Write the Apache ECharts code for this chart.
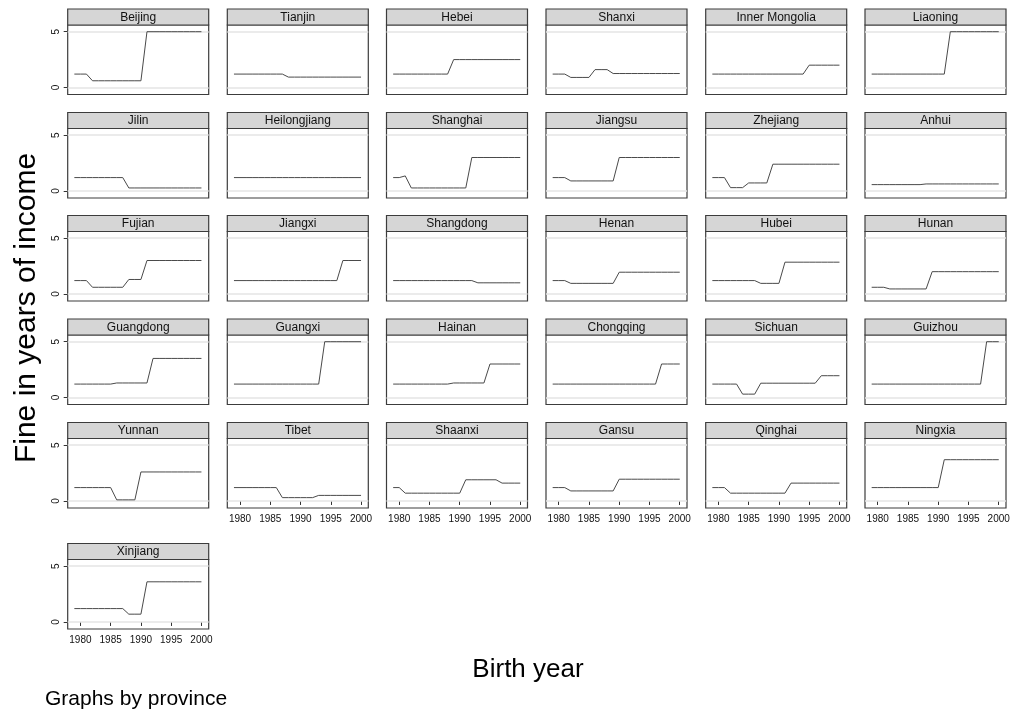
<!DOCTYPE html>
<html>
<head>
<meta charset="utf-8">
<script src="https://cdn.jsdelivr.net/npm/echarts@6.0.0/dist/echarts.min.js"></script>
<style>
  html, body { margin: 0; padding: 0; background: #fff; }
  #main { width: 1012px; height: 713px; }
</style>
</head>
<body>
<div id="main"></div>
<script>
// birth years and axis ticks
const years = [1979, 1980, 1981, 1982, 1983, 1984, 1985, 1986, 1987, 1988, 1989,
  1990, 1991, 1992, 1993, 1994, 1995, 1996, 1997, 1998, 1999, 2000];
const xTicks = [1980, 1985, 1990, 1995, 2000];
const yTicks = [0, 5];

const provinces = ['Beijing', 'Tianjin', 'Hebei', 'Shanxi', 'Inner Mongolia', 'Liaoning',
  'Jilin', 'Heilongjiang', 'Shanghai', 'Jiangsu', 'Zhejiang', 'Anhui',
  'Fujian', 'Jiangxi', 'Shangdong', 'Henan', 'Hubei', 'Hunan',
  'Guangdong', 'Guangxi', 'Hainan', 'Chongqing', 'Sichuan', 'Guizhou',
  'Yunnan', 'Tibet', 'Shaanxi', 'Gansu', 'Qinghai', 'Ningxia',
  'Xinjiang'];

// fine (years of income), 1979..2000
const beijing = [1.2, 1.2, 1.2, 0.6, 0.6, 0.6, 0.6, 0.6, 0.6, 0.6, 0.6, 0.6, 5, 5, 5, 5, 5, 5, 5, 5, 5, 5];
const tianjin = [1.2, 1.2, 1.2, 1.2, 1.2, 1.2, 1.2, 1.2, 1.2, 0.93, 0.93, 0.93, 0.93, 0.93, 0.93, 0.93, 0.93, 0.93, 0.93, 0.93, 0.93, 0.93];
const hebei = [1.2, 1.2, 1.2, 1.2, 1.2, 1.2, 1.2, 1.2, 1.2, 1.2, 2.5, 2.5, 2.5, 2.5, 2.5, 2.5, 2.5, 2.5, 2.5, 2.5, 2.5, 2.5];
const shanxi = [1.2, 1.2, 1.2, 0.9, 0.9, 0.9, 0.9, 1.6, 1.6, 1.6, 1.25, 1.25, 1.25, 1.25, 1.25, 1.25, 1.25, 1.25, 1.25, 1.25, 1.25, 1.25];
const innerMongolia = [1.2, 1.2, 1.2, 1.2, 1.2, 1.2, 1.2, 1.2, 1.2, 1.2, 1.2, 1.2, 1.2, 1.2, 1.2, 1.2, 2, 2, 2, 2, 2, 2];
const liaoning = [1.2, 1.2, 1.2, 1.2, 1.2, 1.2, 1.2, 1.2, 1.2, 1.2, 1.2, 1.2, 1.2, 5, 5, 5, 5, 5, 5, 5, 5, 5];
const jilin = [1.2, 1.2, 1.2, 1.2, 1.2, 1.2, 1.2, 1.2, 1.2, 0.27, 0.27, 0.27, 0.27, 0.27, 0.27, 0.27, 0.27, 0.27, 0.27, 0.27, 0.27, 0.27];
const heilongjiang = [1.2, 1.2, 1.2, 1.2, 1.2, 1.2, 1.2, 1.2, 1.2, 1.2, 1.2, 1.2, 1.2, 1.2, 1.2, 1.2, 1.2, 1.2, 1.2, 1.2, 1.2, 1.2];
const shanghai = [1.2, 1.2, 1.35, 0.27, 0.27, 0.27, 0.27, 0.27, 0.27, 0.27, 0.27, 0.27, 0.27, 3, 3, 3, 3, 3, 3, 3, 3, 3];
const jiangsu = [1.2, 1.2, 1.2, 0.9, 0.9, 0.9, 0.9, 0.9, 0.9, 0.9, 0.9, 3, 3, 3, 3, 3, 3, 3, 3, 3, 3, 3];
const zhejiang = [1.2, 1.2, 1.2, 0.3, 0.3, 0.3, 0.72, 0.72, 0.72, 0.72, 2.4, 2.4, 2.4, 2.4, 2.4, 2.4, 2.4, 2.4, 2.4, 2.4, 2.4, 2.4];
const anhui = [0.57, 0.57, 0.57, 0.57, 0.57, 0.57, 0.57, 0.57, 0.57, 0.63, 0.63, 0.63, 0.63, 0.63, 0.63, 0.63, 0.63, 0.63, 0.63, 0.63, 0.63, 0.63];
const fujian = [1.2, 1.2, 1.2, 0.6, 0.6, 0.6, 0.6, 0.6, 0.6, 1.3, 1.3, 1.3, 3, 3, 3, 3, 3, 3, 3, 3, 3, 3];
const jiangxi = [1.2, 1.2, 1.2, 1.2, 1.2, 1.2, 1.2, 1.2, 1.2, 1.2, 1.2, 1.2, 1.2, 1.2, 1.2, 1.2, 1.2, 1.2, 3, 3, 3, 3];
const shangdong = [1.2, 1.2, 1.2, 1.2, 1.2, 1.2, 1.2, 1.2, 1.2, 1.2, 1.2, 1.2, 1.2, 1.2, 1, 1, 1, 1, 1, 1, 1, 1];
const henan = [1.2, 1.2, 1.2, 0.95, 0.95, 0.95, 0.95, 0.95, 0.95, 0.95, 0.95, 1.95, 1.95, 1.95, 1.95, 1.95, 1.95, 1.95, 1.95, 1.95, 1.95, 1.95];
const hubei = [1.2, 1.2, 1.2, 1.2, 1.2, 1.2, 1.2, 1.2, 0.95, 0.95, 0.95, 0.95, 2.85, 2.85, 2.85, 2.85, 2.85, 2.85, 2.85, 2.85, 2.85, 2.85];
const hunan = [0.6, 0.6, 0.6, 0.45, 0.45, 0.45, 0.45, 0.45, 0.45, 0.45, 2, 2, 2, 2, 2, 2, 2, 2, 2, 2, 2, 2];
const guangdong = [1.2, 1.2, 1.2, 1.2, 1.2, 1.2, 1.2, 1.3, 1.3, 1.3, 1.3, 1.3, 1.3, 3.5, 3.5, 3.5, 3.5, 3.5, 3.5, 3.5, 3.5, 3.5];
const guangxi = [1.2, 1.2, 1.2, 1.2, 1.2, 1.2, 1.2, 1.2, 1.2, 1.2, 1.2, 1.2, 1.2, 1.2, 1.2, 5, 5, 5, 5, 5, 5, 5];
const hainan = [1.2, 1.2, 1.2, 1.2, 1.2, 1.2, 1.2, 1.2, 1.2, 1.2, 1.3, 1.3, 1.3, 1.3, 1.3, 1.3, 3, 3, 3, 3, 3, 3];
const chongqing = [1.2, 1.2, 1.2, 1.2, 1.2, 1.2, 1.2, 1.2, 1.2, 1.2, 1.2, 1.2, 1.2, 1.2, 1.2, 1.2, 1.2, 1.2, 3, 3, 3, 3];
const sichuan = [1.2, 1.2, 1.2, 1.2, 1.2, 0.3, 0.3, 0.3, 1.28, 1.28, 1.28, 1.28, 1.28, 1.28, 1.28, 1.28, 1.28, 1.28, 1.95, 1.95, 1.95, 1.95];
const guizhou = [1.2, 1.2, 1.2, 1.2, 1.2, 1.2, 1.2, 1.2, 1.2, 1.2, 1.2, 1.2, 1.2, 1.2, 1.2, 1.2, 1.2, 1.2, 1.2, 5, 5, 5];
const yunnan = [1.2, 1.2, 1.2, 1.2, 1.2, 1.2, 1.2, 0.1, 0.1, 0.1, 0.1, 2.6, 2.6, 2.6, 2.6, 2.6, 2.6, 2.6, 2.6, 2.6, 2.6, 2.6];
const tibet = [1.2, 1.2, 1.2, 1.2, 1.2, 1.2, 1.2, 1.2, 0.3, 0.3, 0.3, 0.3, 0.3, 0.3, 0.5, 0.5, 0.5, 0.5, 0.5, 0.5, 0.5, 0.5];
const shaanxi = [1.2, 1.2, 0.7, 0.7, 0.7, 0.7, 0.7, 0.7, 0.7, 0.7, 0.7, 0.7, 1.9, 1.9, 1.9, 1.9, 1.9, 1.9, 1.6, 1.6, 1.6, 1.6];
const gansu = [1.2, 1.2, 1.2, 0.9, 0.9, 0.9, 0.9, 0.9, 0.9, 0.9, 0.9, 1.95, 1.95, 1.95, 1.95, 1.95, 1.95, 1.95, 1.95, 1.95, 1.95, 1.95];
const qinghai = [1.2, 1.2, 1.2, 0.7, 0.7, 0.7, 0.7, 0.7, 0.7, 0.7, 0.7, 0.7, 0.7, 1.6, 1.6, 1.6, 1.6, 1.6, 1.6, 1.6, 1.6, 1.6];
const ningxia = [1.2, 1.2, 1.2, 1.2, 1.2, 1.2, 1.2, 1.2, 1.2, 1.2, 1.2, 1.2, 3.7, 3.7, 3.7, 3.7, 3.7, 3.7, 3.7, 3.7, 3.7, 3.7];
const xinjiang = [1.2, 1.2, 1.2, 1.2, 1.2, 1.2, 1.2, 1.2, 1.2, 0.7, 0.7, 0.7, 3.6, 3.6, 3.6, 3.6, 3.6, 3.6, 3.6, 3.6, 3.6, 3.6];

const fines = [beijing, tianjin, hebei, shanxi, innerMongolia, liaoning,
  jilin, heilongjiang, shanghai, jiangsu, zhejiang, anhui,
  fujian, jiangxi, shangdong, henan, hubei, hunan,
  guangdong, guangxi, hainan, chongqing, sichuan, guizhou,
  yunnan, tibet, shaanxi, gansu, qinghai, ningxia,
  xinjiang];

// layout of the 6-column panel grid
const colLeft = [67.7, 227.3, 386.5, 546, 705.7, 865];
const rowTop = [25, 128.5, 231.5, 335, 438.5, 559.5];
const panelW = 141;
const plotH = 69.5;
const headH = 16;
const font = '"Liberation Sans", Arial, Helvetica, sans-serif';

const chart = echarts.init(document.getElementById('main'));

const grid = [], xAxis = [], yAxis = [], series = [], graphic = [];

provinces.forEach(function (name, i) {
  const row = Math.floor(i / 6);
  const col = i % 6;
  const left = colLeft[col];
  const top = rowTop[row];
  const isBottom = i + 6 >= provinces.length;  // last panel in its column
  const isLeft = col === 0;

  grid.push({
    left: left, top: top, width: panelW, height: plotH,
    outerBoundsMode: 'none', containLabel: false,
    show: true, backgroundColor: '#fff',
    borderColor: '#3c3c3c', borderWidth: 1.2
  });

  xAxis.push({
    type: 'value', gridIndex: i,
    min: 1977.9, max: 2001.2,
    show: isBottom,
    axisLine: { show: false },
    splitLine: { show: false },
    axisTick: { show: isBottom, customValues: xTicks, length: 4, lineStyle: { color: '#333' } },
    axisLabel: {
      show: isBottom, customValues: xTicks, fontSize: 10, color: '#111', margin: 6, fontFamily: font,
      formatter: function (v) { return String(v); }
    }
  });

  yAxis.push({
    type: 'value', gridIndex: i,
    min: -0.63, max: 5.6,
    show: isLeft,
    axisLine: { show: false },
    splitLine: { show: false },
    axisTick: { show: isLeft, customValues: yTicks, length: 4, lineStyle: { color: '#333' } },
    axisLabel: { show: isLeft, customValues: yTicks, rotate: 90, fontSize: 10, color: '#111', margin: 6, fontFamily: font }
  });

  // light reference lines at 0 and 5
  series.push({
    type: 'line', xAxisIndex: i, yAxisIndex: i, data: [], z: 1, silent: true,
    markLine: {
      silent: true, symbol: 'none', animation: false, z: 1,
      label: { show: false },
      lineStyle: { color: '#e4e4e4', width: 1.5, type: 'solid' },
      data: [{ yAxis: 0 }, { yAxis: 5 }]
    }
  });

  series.push({
    name: name,
    type: 'line', xAxisIndex: i, yAxisIndex: i, z: 6,
    showSymbol: false, animation: false,
    lineStyle: { color: '#4a4a4a', width: 1 },
    data: years.map(function (y, k) { return [y, fines[i][k]]; })
  });

  // strip header with the province name
  graphic.push({
    type: 'rect',
    shape: { x: left, y: top - headH, width: panelW, height: headH },
    style: { fill: '#d6d6d6', stroke: '#3c3c3c', lineWidth: 1.2 }
  });
  graphic.push({
    type: 'text',
    x: left + panelW / 2, y: top - headH / 2 + 0.5,
    style: {
      text: name, fill: '#111', fontSize: 12, fontFamily: font,
      align: 'center', verticalAlign: 'middle',
      textAlign: 'center', textVerticalAlign: 'middle'
    }
  });
});

// axis titles and note
graphic.push({
  type: 'text', x: 27, y: 308, rotation: Math.PI / 2,
  style: { text: 'Fine in years of income', fill: '#000', fontSize: 30, fontFamily: font,
    align: 'center', verticalAlign: 'middle', textAlign: 'center', textVerticalAlign: 'middle' }
});
graphic.push({
  type: 'text', x: 528, y: 670,
  style: { text: 'Birth year', fill: '#000', fontSize: 26, fontFamily: font,
    align: 'center', verticalAlign: 'middle', textAlign: 'center', textVerticalAlign: 'middle' }
});
graphic.push({
  type: 'text', x: 45, y: 699,
  style: { text: 'Graphs by province', fill: '#000', fontSize: 21, fontFamily: font,
    align: 'left', verticalAlign: 'middle', textAlign: 'left', textVerticalAlign: 'middle' }
});

chart.setOption({
  animation: false,
  backgroundColor: '#fff',
  grid: grid,
  xAxis: xAxis,
  yAxis: yAxis,
  series: series,
  graphic: graphic
});
</script>
</body>
</html>
